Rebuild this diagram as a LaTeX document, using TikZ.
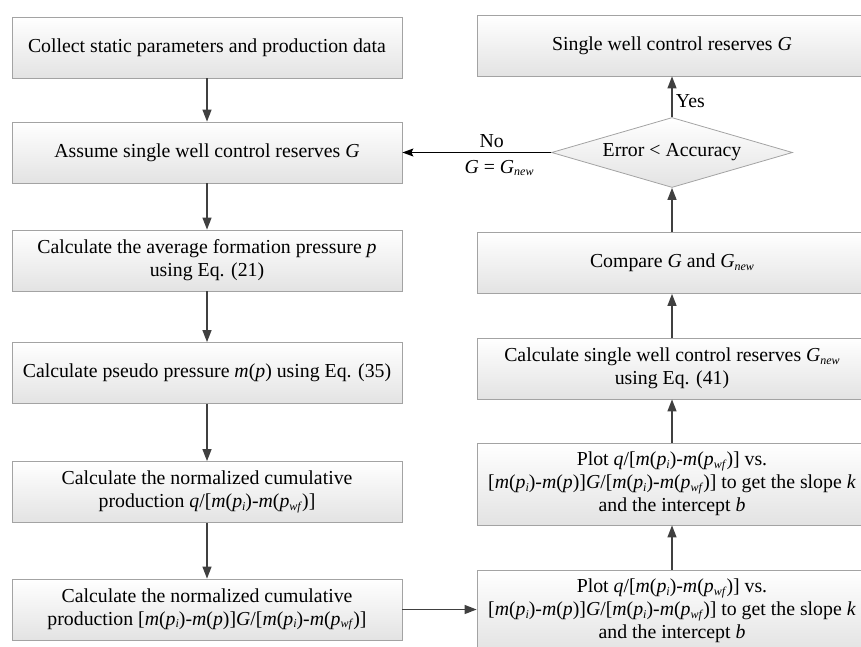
\documentclass[tikz,border=0pt]{standalone}
\usepackage{fontspec}
\setmainfont{Liberation Serif}
\usetikzlibrary{shapes.geometric,arrows.meta}
\definecolor{boxline}{HTML}{A3A3A3}
\definecolor{flowline}{HTML}{404040}
\newcommand{\vi}[1]{\textit{#1}}
\newcommand{\vsub}[1]{\raisebox{-0.3ex}{\fontsize{12pt}{12pt}\selectfont\textit{#1}}}

\begin{document}
\begin{tikzpicture}[x=1pt,y=-1pt,
		stepbox/.style={draw=boxline,line width=0.8pt,top color=white,bottom color=black!11,minimum width=390pt,minimum height=61pt,align=center,inner sep=2pt,font=\fontsize{19.8pt}{23pt}\selectfont},
		plotbox/.style={stepbox,minimum height=82pt},
		decision/.style={diamond,draw=boxline,line width=0.8pt,top color=white,bottom color=black!11,aspect=3.44,minimum width=241pt,minimum height=70pt,inner sep=0pt,font=\fontsize{19.8pt}{23pt}\selectfont},
		flow/.style={draw=flowline,line width=1.3pt,-{Triangle[length=12pt,width=9pt]}},
		lbl/.style={font=\fontsize{19.8pt}{23pt}\selectfont}]
	\clip (0,0) rectangle (861,647);
	\node[stepbox] (collect) at (207,47.5) {Collect static parameters and production data};
	\node[stepbox] (assume) at (207,152.5) {Assume single well control reserves \vi{G}};
	\node[stepbox] (avgp) at (207,260.5) {Calculate the average formation pressure \vi{p}\\using Eq. (21)};
	\node[stepbox] (pseudo) at (207,373) {Calculate pseudo pressure \vi{m}(\vi{p}) using Eq. (35)};
	\node[stepbox] (normq) at (207,492) {Calculate the normalized cumulative\\production \vi{q}/[\vi{m}(\vi{p}\vsub{i})-\vi{m}(\vi{p}\vsub{wf})]};
	\node[stepbox] (normg) at (207,609.5) {Calculate the normalized cumulative\\production [\vi{m}(\vi{p}\vsub{i})-\vi{m}(\vi{p})]\vi{G}/[\vi{m}(\vi{p}\vsub{i})-\vi{m}(\vi{p}\vsub{wf})]};
	\node[plotbox] (plotb) at (672,611) {Plot \vi{q}/[\vi{m}(\vi{p}\vsub{i})-\vi{m}(\vi{p}\vsub{wf})] vs.\\{}[\vi{m}(\vi{p}\vsub{i})-\vi{m}(\vi{p})]\vi{G}/[\vi{m}(\vi{p}\vsub{i})-\vi{m}(\vi{p}\vsub{wf})] to get the slope \vi{k}\\and the intercept \vi{b}};
	\node[plotbox] (plota) at (672,484) {Plot \vi{q}/[\vi{m}(\vi{p}\vsub{i})-\vi{m}(\vi{p}\vsub{wf})] vs.\\{}[\vi{m}(\vi{p}\vsub{i})-\vi{m}(\vi{p})]\vi{G}/[\vi{m}(\vi{p}\vsub{i})-\vi{m}(\vi{p}\vsub{wf})] to get the slope \vi{k}\\and the intercept \vi{b}};
	\node[stepbox] (gnew) at (672,368.5) {Calculate single well control reserves \vi{G}\vsub{new}\\using Eq. (41)};
	\node[stepbox] (compare) at (672,263) {Compare \vi{G} and \vi{G}\vsub{new}};
	\node[decision] (check) at (672,152.5) {Error < Accuracy};
	\node[stepbox] (result) at (672,45.5) {Single well control reserves \vi{G}};
	\draw[flow] (collect) -- (assume);
	\draw[flow] (assume) -- (avgp);
	\draw[flow] (avgp) -- (pseudo);
	\draw[flow] (pseudo) -- (normq);
	\draw[flow] (normq) -- (normg);
	\draw[flow] (normg.east) -- (normg.east -| plotb.west);
	\draw[flow] (plotb) -- (plota);
	\draw[flow] (plota) -- (gnew);
	\draw[flow] (gnew) -- (compare);
	\draw[flow] (compare) -- (check);
	\draw[flow] (check) -- node[lbl,right,pos=0.4] {Yes} (result);
	\draw[line width=1.1pt,-{Stealth[length=11pt,width=8pt,inset=2pt]}] (check.west) -- node[lbl,above,pos=0.4,inner sep=4pt] {No} node[lbl,below,pos=0.35,inner sep=7pt] {\vi{G} = \vi{G}\vsub{new}} (assume.east);
\end{tikzpicture}
\end{document}
